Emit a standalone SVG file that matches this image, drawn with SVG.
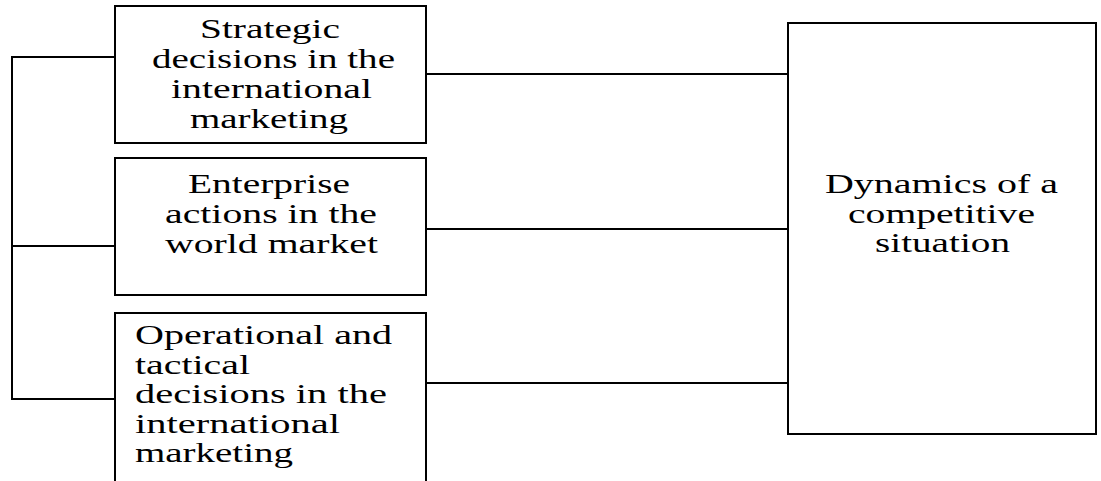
<svg xmlns="http://www.w3.org/2000/svg" width="1101" height="481" viewBox="0 0 1101 481">
<style>
.box{fill:#fff;stroke:#000;stroke-width:2}
.ln{fill:none;stroke:#000;stroke-width:2}
text{font-family:"Liberation Serif","Times New Roman",serif;font-size:28px;fill:#000}
</style>
<rect x="0" y="0" width="1101" height="481" fill="#fff"/>
<g id="connectors">
<polyline class="ln" points="115,57 12,57 12,399 115,399"/>
<line class="ln" x1="12" y1="246" x2="115" y2="246"/>
<line class="ln" x1="426" y1="74" x2="788" y2="74"/>
<line class="ln" x1="426" y1="229" x2="788" y2="229"/>
<line class="ln" x1="426" y1="383" x2="788" y2="383"/>
</g>
<g id="strategic">
<rect class="box" x="115" y="6" width="311" height="137"/>
<text x="200" y="38" textLength="140" lengthAdjust="spacingAndGlyphs">Strategic</text>
<text x="152" y="68" textLength="243" lengthAdjust="spacingAndGlyphs">decisions in the</text>
<text x="171" y="98" textLength="201" lengthAdjust="spacingAndGlyphs">international</text>
<text x="190" y="128" textLength="158" lengthAdjust="spacingAndGlyphs">marketing</text>
</g>
<g id="enterprise">
<rect class="box" x="115" y="158" width="311" height="137"/>
<text x="188" y="193" textLength="162" lengthAdjust="spacingAndGlyphs">Enterprise</text>
<text x="165" y="223" textLength="212" lengthAdjust="spacingAndGlyphs">actions in the</text>
<text x="165" y="253" textLength="213" lengthAdjust="spacingAndGlyphs">world market</text>
</g>
<g id="operational">
<rect class="box" x="115" y="313" width="311" height="200"/>
<text x="135" y="344" textLength="257" lengthAdjust="spacingAndGlyphs">Operational and</text>
<text x="135" y="374" textLength="115" lengthAdjust="spacingAndGlyphs">tactical</text>
<text x="135" y="403" textLength="252" lengthAdjust="spacingAndGlyphs">decisions in the</text>
<text x="135" y="433" textLength="205" lengthAdjust="spacingAndGlyphs">international</text>
<text x="135" y="462" textLength="158" lengthAdjust="spacingAndGlyphs">marketing</text>
</g>
<g id="dynamics">
<rect class="box" x="788" y="23" width="308" height="411"/>
<text x="825" y="193" textLength="233" lengthAdjust="spacingAndGlyphs">Dynamics of a</text>
<text x="848" y="223" textLength="187" lengthAdjust="spacingAndGlyphs">competitive</text>
<text x="875" y="252" textLength="135" lengthAdjust="spacingAndGlyphs">situation</text>
</g>
</svg>
